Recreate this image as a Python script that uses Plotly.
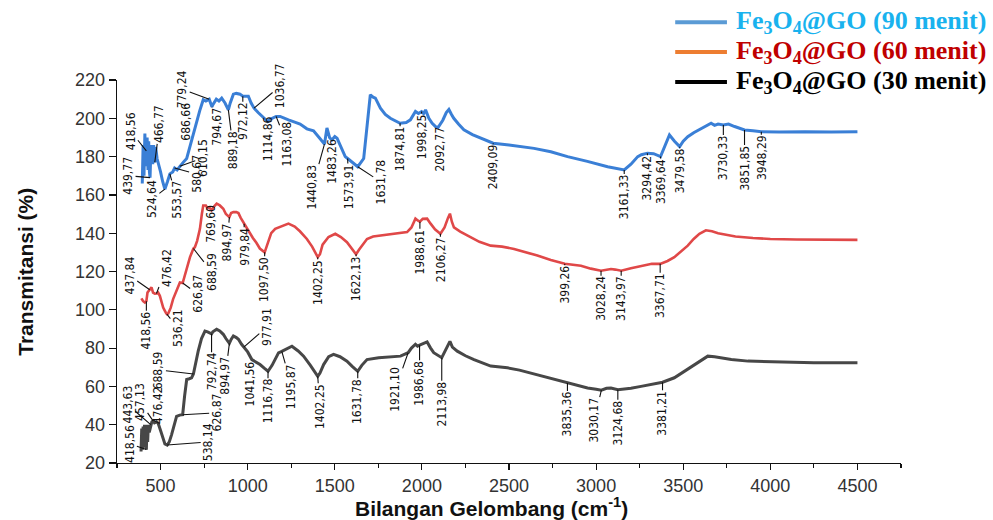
import numpy as np
import plotly.graph_objects as go

# ---------------- data ----------------
series_names = ["Fe<sub>3</sub>O<sub>4</sub>@GO (90 menit)",
                "Fe<sub>3</sub>O<sub>4</sub>@GO (60 menit)",
                "Fe<sub>3</sub>O<sub>4</sub>@GO (30 menit)"]

wn_90 = [395, 400, 405, 410, 414, 418.56, 423, 428, 432, 436, 439.77, 444, 450, 455, 460, 466.77, 472, 480, 490,
         500, 512, 524.64, 540, 553.57, 570, 580.67, 595, 610.15, 630, 650, 665, 686.66, 707, 725, 745, 760, 779.24,
         794.67, 803, 820, 835, 851, 870, 889.18, 900, 918, 935, 956, 972.12, 985, 1004, 1020, 1036.77, 1060, 1081,
         1100, 1114.86, 1130, 1150, 1163.08, 1186, 1210, 1234, 1270, 1301, 1340, 1378, 1410, 1440.83, 1455, 1470,
         1483.26, 1500, 1513, 1540, 1560, 1573.91, 1600, 1631.78, 1666, 1685, 1704, 1720, 1733, 1762, 1790, 1819,
         1850, 1874.81, 1910, 1934, 1963, 1980, 1998.25, 2010, 2021, 2040, 2059, 2080, 2092.77, 2120, 2140, 2155,
         2170, 2183, 2210, 2241, 2290, 2337, 2409.09, 2500, 2644, 2740, 2836, 2950, 3066, 3161.33, 3200, 3239, 3260,
         3294.42, 3330, 3369.64, 3395, 3421, 3450, 3479.58, 3500, 3526, 3560, 3603, 3630, 3660, 3680, 3700, 3730.33,
         3760, 3795, 3820, 3851.85, 3900, 3948.29, 4050, 4200, 4350, 4500]
t_90 = [166, 186, 170, 192, 175, 183, 190, 173, 188, 172, 169, 182, 186, 176, 186, 177, 185, 179, 176,
        172, 167, 163, 167, 171, 172, 174, 173, 175, 177, 179, 184, 192, 199, 204, 209.7, 209, 210,
        206, 207.5, 210, 209, 210.5, 208, 204.4, 208, 212.6, 213, 212.6, 211.5, 211.4, 211.5, 208, 205.3, 203, 201,
        199.5, 198.3, 199.5, 200.5, 201, 201, 200.3, 199.2, 198, 197, 194.5, 193.5, 190, 186.5, 195, 190,
        188.7, 190.5, 189.6, 184, 180, 179, 177, 174.7, 179, 196, 212.3, 211, 210.5, 205.3, 202, 200,
        198.5, 197.4, 197.8, 199.2, 203.6, 202.5, 203.5, 202.5, 204.4, 200, 197.4, 195.5, 195.2, 199, 203, 204.6,
        202, 200, 197, 194, 191.5, 189.6, 187, 186, 184.3, 182.5, 180, 177.5, 174.7, 173, 176, 180, 181,
        181.8, 181.5, 180, 186, 191.3, 188, 185.2, 188, 190.4, 192.5, 194.8, 196, 197.4, 196.3, 197, 196.5,
        197, 195.7, 195, 193.9, 193.5, 193, 192.8, 193, 192.8, 193]

wn_60 = [390, 400, 410, 418.56, 425, 437.84, 448, 457, 467, 476.42, 486, 496, 505, 515, 530, 536.21, 544, 558, 572,
         590, 611, 626.87, 640, 655, 669, 688.59, 697, 710, 726, 737, 745, 760, 769.6, 780, 793, 808, 822, 840, 860,
         875, 894.97, 905, 918, 935, 947, 960, 979.84, 1000, 1014, 1030, 1050, 1070, 1097.5, 1115, 1135, 1158, 1190,
         1234, 1270, 1300, 1340, 1370, 1402.25, 1415, 1430, 1464, 1503, 1535, 1570, 1600, 1622.13, 1640, 1685, 1720,
         1762, 1830, 1915, 1940, 1963, 1978, 1988.61, 2005, 2030, 2050, 2075, 2106.27, 2130, 2150, 2161, 2172, 2184,
         2220, 2261, 2330, 2395, 2460, 2529, 2600, 2663, 2740, 2820, 2913, 2970, 3028.24, 3060, 3085, 3110, 3143.97,
         3200, 3258, 3320, 3367.71, 3410, 3449, 3490, 3526, 3560, 3593, 3630, 3665, 3700, 3750, 3800, 3900, 4000,
         4150, 4300, 4500]
t_60 = [106, 104.5, 103.8, 104.5, 109, 110.5, 111.7, 109, 108.4, 108.5, 109, 107.3, 104, 101.2, 98.5, 97.7, 98, 101,
        105.6, 110, 114.3, 114, 118, 123, 127.5, 132, 132.7, 136, 142.3, 150, 154.5, 154.5, 153, 153.5, 152, 154,
        155.4, 154.5, 152.8, 150, 148.4, 150.5, 151, 151, 150.5, 148, 145, 141.5, 139.7, 137.5, 135, 132, 130,
        135, 140, 142.3, 143.5, 145, 143.5, 141, 137, 133, 127.5, 129, 134, 138, 139.7, 138, 135.3, 131.5, 129,
        131.5, 137, 138.3, 138.8, 139.5, 140.6, 143, 147.6, 146.5, 146, 147.5, 147.6, 145, 142, 139.7, 143, 148,
        150.2, 146, 143, 140.8, 138.8, 135.5, 133.5, 133, 131.8, 130, 128.3, 126, 124, 123, 121.5, 120.4, 121,
        121.3, 121, 120.4, 121.7, 123, 124, 124, 125.5, 127.5, 130.5, 133.5, 137, 139.7, 141.5, 141, 140, 139,
        138.3, 137.5, 137, 136.7, 136.5, 136.5]

wn_30 = [388, 392, 396, 400, 404, 408, 412, 416, 418.56, 422, 426, 430, 435, 443.63, 450, 457.13, 465, 476.42, 486,
         500, 515, 525, 538.14, 550, 563, 578, 592, 610, 626.87, 638, 650, 665, 678, 688.59, 700, 716, 735, 755,
         770, 792.74, 800, 822, 840, 860, 875, 894.97, 905, 918, 935, 947, 965, 977.91, 1000, 1024, 1041.56, 1071,
         1095, 1116.78, 1140, 1160, 1177, 1195.87, 1225, 1254, 1290, 1321, 1360, 1402.25, 1415, 1436, 1465, 1493,
         1530, 1570, 1600, 1631.78, 1655, 1685, 1752, 1820, 1877, 1921.1, 1940, 1963, 1975, 1986.68, 2010, 2030,
         2050, 2068, 2113.98, 2130, 2150, 2161, 2175, 2203, 2250, 2299, 2395, 2491, 2560, 2625, 2721, 2835.36, 2951,
         3000, 3030.17, 3060, 3085, 3124.68, 3160, 3200, 3258, 3330, 3381.21, 3449, 3500, 3545, 3600, 3641, 3680,
         3720, 3776, 3872, 4064, 4250, 4500]
t_30 = [26, 38, 27, 39, 28, 40, 30, 39, 27, 40, 31, 40, 36, 40, 41.5, 42, 41, 41.5, 40.8,
        37, 33, 30, 29.4, 31, 34.7, 40, 44.3, 45, 45.2, 55, 63.6, 64, 64.5, 66.5, 72, 78.4, 85, 88.9,
        88.5, 87.5, 88.5, 89.8, 89, 87.2, 85, 82.5, 84.5, 86.3, 85.5, 84.6, 82, 80.5, 78, 74, 73, 71.4,
        69.5, 67.9, 71, 75, 77.5, 78.3, 79.5, 81, 78.5, 75.8, 71, 65.3, 67, 71.4, 75.5, 76.7,
        75.5, 73.2, 70.5, 67.9, 71, 74, 75, 75.5, 75.8, 77.6, 80, 82, 81, 81.5, 82.5, 83.2,
        80, 77.6, 75, 78, 82, 83.5, 80.5, 78.4, 76, 74, 70.6, 69.7, 68.5, 67, 64.5, 61.8, 59.2,
        58.5, 58, 59, 59.2, 58.3, 58.5, 59, 60, 61.5, 62.2, 64.5, 67.5, 70.6, 73.5, 75.8, 75.5,
        74.8, 74, 73.2, 72.6, 72.3, 72.3]

# peak labels (wavenumber position, text as printed)
pk90_wn = [418.56, 439.77, 466.77, 524.64, 553.57, 580.67, 610.15, 686.66, 779.24, 794.67, 889.18, 972.12,
           1036.77, 1114.86, 1163.08, 1440.83, 1483.26, 1573.91, 1631.78, 1874.81, 1998.25, 2092.77, 2409.09,
           3161.33, 3294.42, 3369.64, 3479.58, 3730.33, 3851.85, 3948.29]
pk90_txt = ["418,56", "439,77", "466,77", "524,64", "553,57", "580,67", "610,15", "686,66", "779,24", "794,67",
            "889,18", "972,12", "1036,77", "1114,86", "1163,08", "1440,83", "1483,26", "1573,91", "1631,78",
            "1874,81", "1998,25", "2092,77", "2409,09", "3161,33", "3294,42", "3369,64", "3479,58", "3730,33",
            "3851,85", "3948,29"]
pk60_wn = [437.84, 418.56, 476.42, 536.21, 626.87, 688.59, 769.6, 894.97, 979.84, 1097.5, 1402.25, 1622.13,
           1988.61, 2106.27, 2820, 3028.24, 3143.97, 3367.71]
pk60_txt = ["437,84", "418,56", "476,42", "536,21", "626,87", "688,59", "769,60", "894,97", "979,84", "1097,50",
            "1402,25", "1622,13", "1988,61", "2106,27", "399,26", "3028,24", "3143,97", "3367,71"]
pk30_wn = [418.56, 443.63, 457.13, 476.42, 688.59, 538.14, 626.87, 792.74, 894.97, 977.91, 1041.56, 1116.78,
           1195.87, 1402.25, 1631.78, 1921.1, 1986.68, 2113.98, 2835.36, 3030.17, 3124.68, 3381.21]
pk30_txt = ["418,56", "443,63", "457,13", "476,42", "688,59", "538,14", "626,87", "792,74", "894,97", "977,91",
            "1041,56", "1116,78", "1195,87", "1402,25", "1631,78", "1921,10", "1986,68", "2113,98", "3835,36",
            "3030,17", "3124,68", "3381,21"]

x_ticks = [500, 1000, 1500, 2000, 2500, 3000, 3500, 4000, 4500]
y_ticks = [20, 40, 60, 80, 100, 120, 140, 160, 180, 200, 220]

# ---------------- layout (pixel offsets of label text from the peak point) ----------------
off90 = [(-16, -20), (-22, -2), (5, -38), (-13, 10), (7, 26), (22, 6), (23, -8), (-7, -12), (-27, -10), (5, 20),
         (5, 40), (0, 25), (26, -22), (0, 17), (11, 28), (-12, 43), (0, 21), (1, 28), (23, 15), (0, 26), (0, 25),
         (2, 22), (0, 24), (0, 27), (0, 25), (0, 25), (0, 24), (0, 33), (0, 38), (0, 26)]
off60 = [(-20, -14), (0, 29), (10, -26), (11, 14), (15, 11), (18, 23), (4, 16), (-2, 25), (0, 23), (0, 27),
         (0, 25), (0, 25), (0, 30), (0, 26), (0, 21), (0, 28), (0, 28), (0, 32)]
off30 = [(-17, -6), (-23, -20), (-13, -19), (1, -17), (-35, -4), (41, -3), (34, -2), (0, 38), (-4, 32), (23, -20),
         (-5, 22), (0, 30), (10, 35), (2, 30), (0, 30), (-13, 37), (0, 38), (0, 46), (0, 31), (-7, 30), (0, 33),
         (0, 31)]

line_colors = ["#3a7fd6", "#e04848", "#474747"]
legend_line_colors = ["#5b9bd5", "#ed7d31", "#000000"]
legend_text_colors = ["#19b2ee", "#c00000", "#000000"]

fig = go.Figure()
all_series = [(wn_90, t_90), (wn_60, t_60), (wn_30, t_30)]
for (wx, ty), col, w in zip(all_series, line_colors, [3, 2.6, 3]):
    fig.add_trace(go.Scatter(x=wx, y=ty, mode="lines", line=dict(color=col, width=w),
                             showlegend=False, hoverinfo="skip"))

label_font = dict(family="Liberation Sans Narrow, Arial Narrow, DejaVu Sans Condensed, sans-serif",
                  size=12, color="#111")
annotations = []
for (wx, ty), pwn, ptx, offs in zip(all_series, [pk90_wn, pk60_wn, pk30_wn], [pk90_txt, pk60_txt, pk30_txt],
                                    [off90, off60, off30]):
    for p, t, (dx, dy) in zip(pwn, ptx, offs):
        yv = float(np.interp(p, wx, ty))
        annotations.append(dict(x=p, y=yv, xref="x", yref="y", text=t, textangle=-90,
                                showarrow=True, arrowhead=0, arrowwidth=1.1, arrowcolor="#111",
                                ax=dx, ay=dy, standoff=0, borderpad=0, font=label_font))

# axis titles
annotations.append(dict(x=-0.117, y=0.5, xref="paper", yref="paper", text="<b>Transmitansi (%)</b>",
                        textangle=-90, showarrow=False, xanchor="center", yanchor="middle",
                        font=dict(family="Liberation Sans Narrow, Arial Narrow, Liberation Sans, sans-serif",
                                  size=21, color="#111")))
annotations.append(dict(x=0.478, y=-0.115, xref="paper", yref="paper",
                        text="<b>Bilangan Gelombang (cm<sup>-1</sup>)</b>", showarrow=False,
                        xanchor="center", yanchor="middle",
                        font=dict(family="Liberation Sans, Arial, sans-serif", size=21, color="#111")))

# legend drawn manually
shapes = []
leg_y = [1.151, 1.073, 0.995]
for name, lc, tc, yy in zip(series_names, legend_line_colors, legend_text_colors, leg_y):
    shapes.append(dict(type="line", xref="paper", yref="paper", x0=0.712, x1=0.778, y0=yy, y1=yy,
                       line=dict(color=lc, width=4)))
    annotations.append(dict(x=0.787, y=yy, xref="paper", yref="paper", text="<b>" + name + "</b>",
                            xanchor="left", yanchor="middle", showarrow=False,
                            font=dict(family="Liberation Serif, Times New Roman, serif", size=26, color=tc)))

fig.update_layout(
    width=993, height=520, autosize=False,
    margin=dict(l=117, r=92, t=80, b=57),
    paper_bgcolor="white", plot_bgcolor="white",
    showlegend=False,
    annotations=annotations, shapes=shapes,
    xaxis=dict(range=[250, 4750], tickvals=x_ticks, ticks="outside", ticklen=6, tickwidth=1.2,
               tickcolor="#111", showline=True, linecolor="#111", linewidth=1.3, showgrid=False, zeroline=False,
               tickfont=dict(family="Liberation Sans, Arial, sans-serif", size=18, color="#333"),
               minor=dict(dtick=250, tick0=250, ticks="outside", ticklen=4, tickcolor="#111", showgrid=False)),
    yaxis=dict(range=[20, 220], tickvals=y_ticks, ticks="outside", ticklen=7, tickwidth=1.2,
               tickcolor="#111", showline=True, linecolor="#111", linewidth=1.3, showgrid=False, zeroline=False,
               tickfont=dict(family="Liberation Sans, Arial, sans-serif", size=18, color="#333")),
)

fig.write_html("out.html", config={"displayModeBar": False, "staticPlot": True},
               post_script="document.body.style.margin='0';document.body.style.overflow='hidden';")
